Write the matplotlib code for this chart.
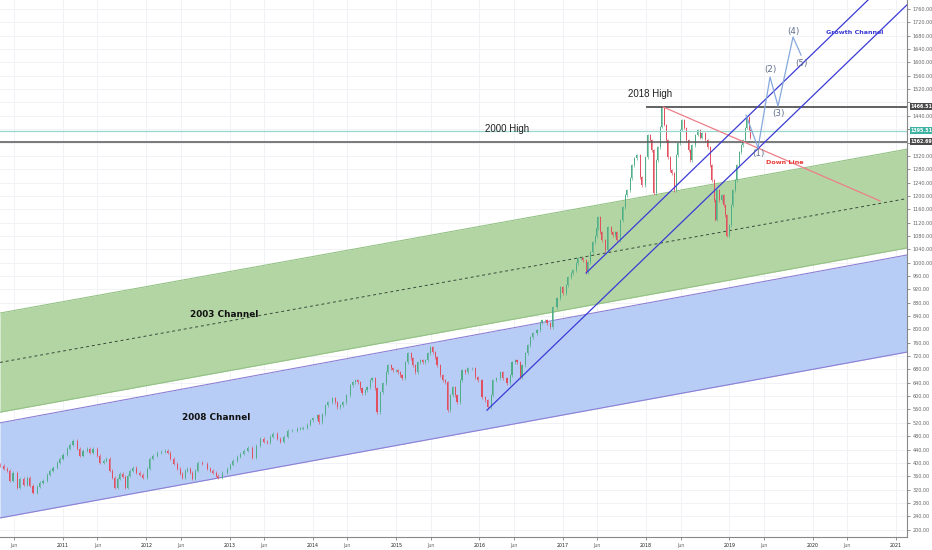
import matplotlib
matplotlib.use("Agg")
import matplotlib.pyplot as plt
import matplotlib.transforms as mtransforms

# ---------------- data ----------------
dates = [
    2010.24, 2010.29, 2010.33, 2010.36, 2010.40, 2010.45, 2010.48, 2010.53, 2010.57, 2010.60,
    2010.64, 2010.69, 2010.72, 2010.76, 2010.81, 2010.84, 2010.88, 2010.93, 2010.96, 2011.00,
    2011.05, 2011.08, 2011.12, 2011.17, 2011.20, 2011.24, 2011.29, 2011.32, 2011.36, 2011.41,
    2011.44, 2011.49, 2011.52, 2011.56, 2011.59, 2011.62, 2011.66, 2011.68, 2011.72, 2011.75,
    2011.78, 2011.80, 2011.84, 2011.88, 2011.92, 2011.96, 2012.01, 2012.04, 2012.08, 2012.13,
    2012.18, 2012.23, 2012.26, 2012.29, 2012.33, 2012.37, 2012.41, 2012.43, 2012.47, 2012.49,
    2012.53, 2012.55, 2012.59, 2012.62, 2012.67, 2012.73, 2012.77, 2012.80, 2012.84, 2012.86,
    2012.91, 2012.97, 2013.01, 2013.04, 2013.09, 2013.13, 2013.17, 2013.22, 2013.27, 2013.32,
    2013.37, 2013.41, 2013.45, 2013.49, 2013.52, 2013.57, 2013.61, 2013.65, 2013.70, 2013.75,
    2013.81, 2013.85, 2013.88, 2013.93, 2013.97, 2014.00, 2014.05, 2014.07, 2014.11, 2014.15,
    2014.18, 2014.23, 2014.27, 2014.29, 2014.33, 2014.36, 2014.40, 2014.45, 2014.48, 2014.51,
    2014.54, 2014.57, 2014.59, 2014.63, 2014.65, 2014.69, 2014.71, 2014.75, 2014.77, 2014.81,
    2014.84, 2014.88, 2014.90, 2014.94, 2014.96, 2015.00, 2015.02, 2015.05, 2015.07, 2015.11,
    2015.14, 2015.18, 2015.20, 2015.23, 2015.26, 2015.29, 2015.32, 2015.35, 2015.38, 2015.41,
    2015.44, 2015.47, 2015.49, 2015.53, 2015.56, 2015.59, 2015.62, 2015.65, 2015.68, 2015.71,
    2015.73, 2015.77, 2015.79, 2015.83, 2015.86, 2015.91, 2015.95, 2015.98, 2016.03, 2016.07,
    2016.10, 2016.14, 2016.16, 2016.20, 2016.25, 2016.28, 2016.33, 2016.37, 2016.39, 2016.43,
    2016.45, 2016.49, 2016.51, 2016.55, 2016.58, 2016.61, 2016.64, 2016.69, 2016.73, 2016.75,
    2016.79, 2016.81, 2016.85, 2016.88, 2016.93, 2016.97, 2017.00, 2017.04, 2017.06, 2017.10,
    2017.12, 2017.16, 2017.18, 2017.22, 2017.24, 2017.28, 2017.30, 2017.33, 2017.36, 2017.39,
    2017.41, 2017.42, 2017.45, 2017.47, 2017.51, 2017.54, 2017.58, 2017.60, 2017.63, 2017.65,
    2017.69, 2017.72, 2017.75, 2017.77, 2017.81, 2017.83, 2017.86, 2017.89, 2017.93, 2017.95,
    2017.99, 2018.02, 2018.05, 2018.07, 2018.09, 2018.12, 2018.14, 2018.17, 2018.19, 2018.22,
    2018.24, 2018.26, 2018.29, 2018.31, 2018.34, 2018.36, 2018.38, 2018.41, 2018.43, 2018.46,
    2018.48, 2018.51, 2018.53, 2018.55, 2018.59, 2018.62, 2018.65, 2018.67, 2018.71, 2018.74,
    2018.77, 2018.79, 2018.82, 2018.83, 2018.85, 2018.88, 2018.91, 2018.93, 2018.95, 2018.97,
    2019.00, 2019.02, 2019.04, 2019.07, 2019.09, 2019.12, 2019.14, 2019.16, 2019.19, 2019.21,
    2019.24, 2019.25,
]
closes = [
    392, 383, 377, 347, 371, 326, 353, 335, 356, 332,
    311, 329, 341, 347, 365, 377, 386, 401, 413, 425,
    443, 455, 467, 443, 422, 437, 443, 431, 443, 422,
    401, 407, 413, 377, 356, 326, 353, 368, 359, 326,
    362, 377, 386, 371, 365, 356, 383, 413, 422, 431,
    434, 437, 431, 413, 398, 383, 368, 356, 377, 383,
    371, 353, 377, 401, 398, 383, 377, 371, 362, 356,
    371, 383, 395, 407, 419, 428, 437, 446, 416, 452,
    473, 464, 461, 479, 488, 473, 464, 479, 497, 497,
    503, 503, 506, 515, 527, 533, 542, 521, 545, 572,
    581, 593, 581, 566, 572, 581, 602, 632, 641, 647,
    641, 623, 608, 617, 626, 647, 653, 623, 551, 611,
    638, 671, 692, 683, 677, 677, 671, 662, 653, 701,
    728, 713, 692, 671, 701, 707, 701, 707, 728, 746,
    731, 716, 692, 662, 647, 641, 557, 602, 626, 602,
    581, 647, 677, 671, 683, 683, 656, 647, 596, 587,
    566, 602, 647, 653, 671, 653, 638, 662, 701, 707,
    701, 656, 692, 728, 752, 776, 788, 797, 821, 827,
    827, 818, 806, 866, 893, 926, 908, 932, 956, 968,
    977, 998, 1013, 1013, 1007, 971, 1001, 1031, 1061, 1079,
    1103, 1136, 1091, 1067, 1037, 1106, 1091, 1082, 1091, 1067,
    1127, 1166, 1202, 1217, 1253, 1292, 1313, 1322, 1256, 1232,
    1316, 1382, 1367, 1337, 1208, 1307, 1346, 1406, 1466, 1412,
    1367, 1316, 1277, 1268, 1217, 1322, 1358, 1397, 1427, 1403,
    1367, 1337, 1307, 1352, 1382, 1397, 1373, 1388, 1367, 1346,
    1292, 1247, 1187, 1128, 1217, 1187, 1202, 1172, 1142, 1080,
    1112, 1172, 1217, 1247, 1292, 1331, 1352, 1367, 1403, 1436,
    1397, 1373,
]
first_open = 395

# channels (start / end of the visible span)
channel_dates = [2010.244, 2021.132]
ch2003_top = [849, 1340]
ch2003_mid = [701, 1192]
ch2003_bot = [552, 1044]
ch2008_top = [520, 1023]
ch2008_bot = [235, 732]

growth_lo_dates = [2016.09, 2021.13]
growth_lo_vals = [558, 1772]
growth_hi_dates = [2017.28, 2020.90]
growth_hi_vals = [969, 1844]

down_dates = [2018.204, 2020.808]
down_vals = [1466.5, 1185]

wave_dates = [2019.200, 2019.344, 2019.488, 2019.584, 2019.764, 2019.860]
wave_vals = [1442, 1344, 1556, 1469, 1676, 1622]
wave_labels = ["(1)", "(2)", "(3)", "(4)", "(5)"]
wave_label_vals = [1328, 1580, 1448, 1694, 1598]

high_2018 = 1466.51
level_teal = 1395.51
high_2000 = 1362.69
high_2018_start = 2018.01

price_ticks = list(range(200, 1761, 40))
hidden_price_labels = [1480, 1400, 1360]
year_ticks = list(range(2011, 2022))
year_labels = [str(y) for y in year_ticks]
jun_ticks = [y + 0.414 for y in range(2010, 2021)]
jun_labels = ["Jun"] * len(jun_ticks)

# ---------------- figure ----------------
W, H = 932, 550
fig = plt.figure(figsize=(W / 100, H / 100), dpi=100)
fig.patch.set_facecolor("white")
ax = fig.add_axes([0, 13 / H, 907 / W, 537 / H])
ax.set_facecolor("white")
ax.set_xlim(channel_dates[0], channel_dates[1])
ax.set_ylim(177.9, 1787)

# grid
for t in year_ticks + jun_ticks:
    ax.axvline(t, color="#f0f2f6", lw=0.7, zorder=0)
for p in price_ticks:
    ax.axhline(p, color="#f0f2f6", lw=0.7, zorder=0)

# channels
ax.fill_between(channel_dates, ch2003_bot, ch2003_top, color="#b3d5a4", zorder=1, lw=0)
ax.plot(channel_dates, ch2003_top, color="#93c283", lw=0.8, zorder=2)
ax.plot(channel_dates, ch2003_bot, color="#93c283", lw=0.8, zorder=2)
ax.plot(channel_dates, ch2003_mid, color="#3a4a3a", lw=0.7, ls=(0, (3, 3)), zorder=2)

ax.fill_between(channel_dates, ch2008_bot, ch2008_top, color="#b8cdf5", zorder=1, lw=0)
ax.plot(channel_dates, ch2008_top, color="#8c7fd4", lw=0.8, zorder=2)
ax.plot(channel_dates, ch2008_bot, color="#8c7fd4", lw=0.8, zorder=2)

# candles
opens = [first_open] + closes[:-1]
for d, o, c in zip(dates, opens, closes):
    col = "#4fae88" if c >= o else "#e2505f"
    lo, hi = min(o, c), max(o, c)
    ax.vlines(d, lo - 4, hi + 4, color=col, lw=0.45, zorder=3)
    ax.bar(d, max(hi - lo, 2), bottom=lo, width=0.013, color=col, lw=0, zorder=3)

# horizontal levels
ax.axhline(level_teal, color="#9ad8cf", lw=0.9, zorder=4)
ax.axhline(high_2000, color="#555555", lw=1.1, zorder=4)
ax.plot([high_2018_start, channel_dates[1]], [high_2018, high_2018], color="#555555", lw=1.3, zorder=4)

# down line
ax.plot(down_dates, down_vals, color="#ec7f88", lw=0.9, zorder=4)

# growth channel
ax.plot(growth_lo_dates, growth_lo_vals, color="#3b3bd6", lw=0.9, zorder=4)
ax.plot(growth_hi_dates, growth_hi_vals, color="#3b3bd6", lw=0.9, zorder=4)

# wave path
ax.plot(wave_dates, wave_vals, color="#86a8dc", lw=0.9, zorder=4)
for d, v, lab in zip(wave_dates[1:], wave_label_vals, wave_labels):
    ax.text(d, v, lab, fontsize=6.3, color="#5f6f8c", ha="center", va="center",
            family="DejaVu Sans", zorder=5)

# texts
ax.text(2018.047, 1505, "2018 High", fontsize=7, color="#222222", ha="center", va="center",
        family="Liberation Sans", zorder=5)
ax.text(2016.33, 1400, "2000 High", fontsize=7, color="#222222", ha="center", va="center",
        family="Liberation Sans", zorder=5)
ax.text(2012.93, 846, "2003 Channel", fontsize=6.4, color="#111111", ha="center", va="center",
        fontweight="bold", family="DejaVu Sans", zorder=5)
ax.text(2012.84, 535, "2008 Channel", fontsize=6.4, color="#111111", ha="center", va="center",
        fontweight="bold", family="DejaVu Sans", zorder=5)
ax.text(2020.508, 1691, "Growth Channel", fontsize=4.6, color="#3b3bd6", ha="center", va="center",
        fontweight="bold", family="DejaVu Sans", zorder=5)
ax.text(2019.668, 1299, "Down Line", fontsize=4.6, color="#e53935", ha="center", va="center",
        fontweight="bold", family="DejaVu Sans", zorder=5)

# axes styling
for s in ["left", "top"]:
    ax.spines[s].set_visible(False)
ax.spines["right"].set_color("#888888")
ax.spines["bottom"].set_color("#888888")
ax.spines["right"].set_linewidth(0.8)
ax.spines["bottom"].set_linewidth(0.8)

ax.yaxis.tick_right()
ax.set_yticks(price_ticks)
ax.set_yticklabels(["" if p in hidden_price_labels else f"{p:.2f}" for p in price_ticks])
ax.tick_params(axis="y", labelsize=3.5, colors="#666666", length=2, width=0.5, pad=2)

xt = year_ticks + jun_ticks
xl = year_labels + jun_labels
ax.set_xticks(xt)
ax.set_xticklabels(xl)
ax.tick_params(axis="x", labelsize=3.4, colors="#666666", length=2, width=0.5, pad=2)
for lab in ax.get_xticklabels():
    if lab.get_text() != "Jun":
        lab.set_color("#222222")

# price boxes on the right axis
trans = mtransforms.blended_transform_factory(ax.transAxes, ax.transData)
for val, fc in [(high_2018, "#4a4a4a"), (level_teal, "#3db3a3"), (high_2000, "#4a4a4a")]:
    ax.text(1.004, val, f"{val:.2f}", transform=trans, fontsize=3.4, color="white",
            ha="left", va="center", fontweight="bold", zorder=6, clip_on=False,
            bbox=dict(boxstyle="square,pad=0.22", fc=fc, ec="none"))

fig.savefig("out.png", dpi=100, facecolor="white")
